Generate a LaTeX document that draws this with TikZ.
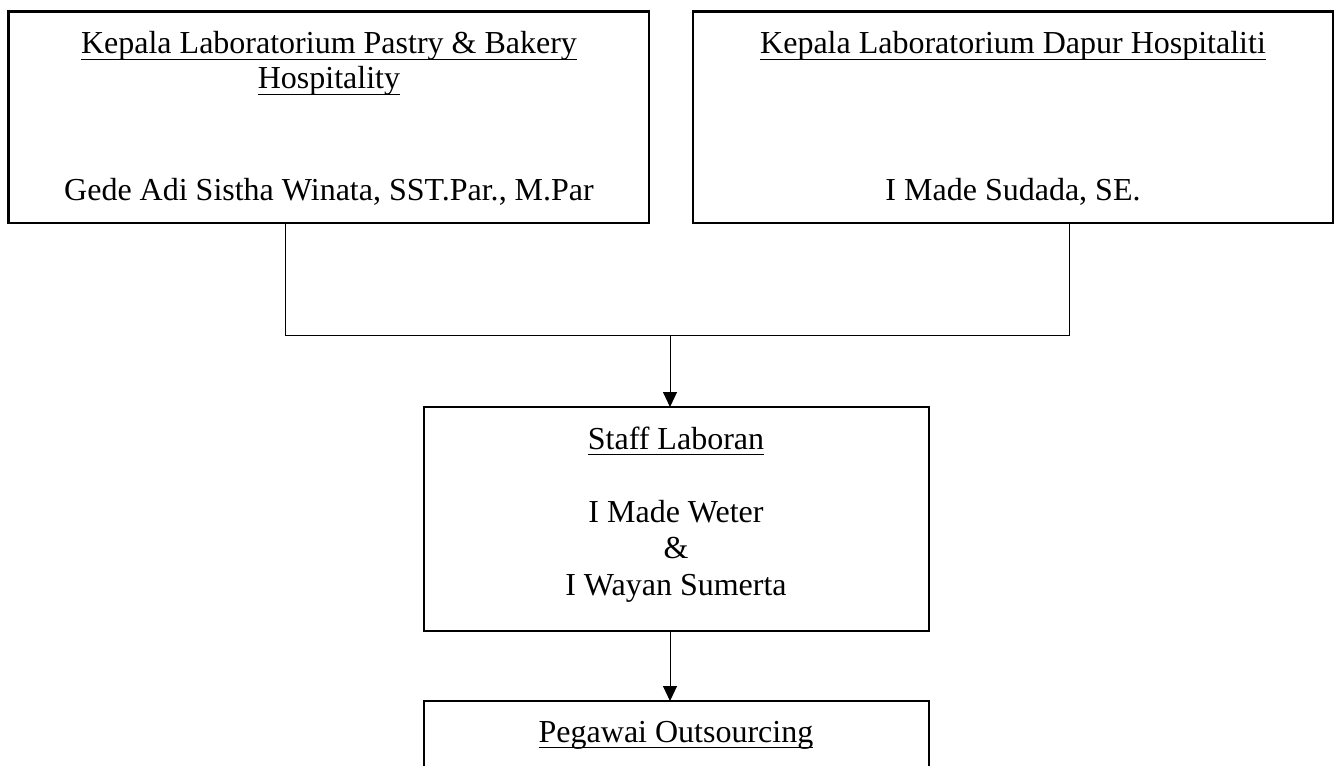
\documentclass[tikz,border=0pt]{standalone}
\usepackage{fontspec}
\setmainfont{Liberation Serif}
\usetikzlibrary{arrows.meta}
\newcommand{\myul}[1]{\setbox0\hbox{#1}\leavevmode\rlap{\rule[-6.4pt]{\wd0}{1.4pt}}\box0}
\tikzset{
  orgbox/.style={draw, line width=2.5pt, rectangle, inner sep=0pt, outer sep=0pt},
  txt/.style={anchor=base, inner sep=0pt, font=\fontsize{32}{36}\selectfont},
  conn/.style={line width=1pt},
  arr/.style={line width=1pt, -{Triangle[width=14pt,length=15pt]}}
}
\begin{document}
\begin{tikzpicture}[x=1pt,y=-1pt]
\useasboundingbox (0,0) rectangle (1337,765);
\clip (0,0) rectangle (1337,765);
\fill[white] (0,0) rectangle (1337,765);
% boxes
\node[orgbox, minimum width=640.5pt, minimum height=211.5pt] (b1) at (328.75,117.25) {};
\node[orgbox, minimum width=640pt, minimum height=211.5pt] (b2) at (1013,117.25) {};
\node[orgbox, minimum width=505pt, minimum height=224pt] (b3) at (676.5,519) {};
\node[orgbox, minimum width=505pt, minimum height=200pt] (b4) at (676.5,801) {};
% texts
\node[txt] (t1a) at (329,54) {\myul{Kepala Laboratorium Pastry \& Bakery}};
\node[txt] (t1b) at (329,89) {\myul{Hospitality}};
\node[txt] (t1c) at (329,200) {Gede Adi Sistha Winata, SST.Par., M.Par};
\node[txt] (t2a) at (1013,54) {\myul{Kepala Laboratorium Dapur Hospitaliti}};
\node[txt] (t2b) at (1013,200) {I Made Sudada, SE.};
\node[txt] (t3a) at (676,449) {\myul{Staff Laboran}};
\node[txt] (t3b) at (676,522) {I Made Weter};
\node[txt] (t3c) at (676,558) {\&};
\node[txt] (t3d) at (676,595) {I Wayan Sumerta};
\node[txt] (t4a) at (676,742) {\myul{Pegawai Outsourcing}};
% connectors
\coordinate (j1) at (285,335);
\coordinate (j2) at (1069,335);
\coordinate (jm) at (670,335);
\draw[conn] (b1.south -| j1) -- (j1) -- (j2) -- (b2.south -| j2);
\draw[arr] (jm) -- (b3.north -| jm);
\draw[arr] (b3.south -| jm) -- (b4.north -| jm);
\end{tikzpicture}
\end{document}
